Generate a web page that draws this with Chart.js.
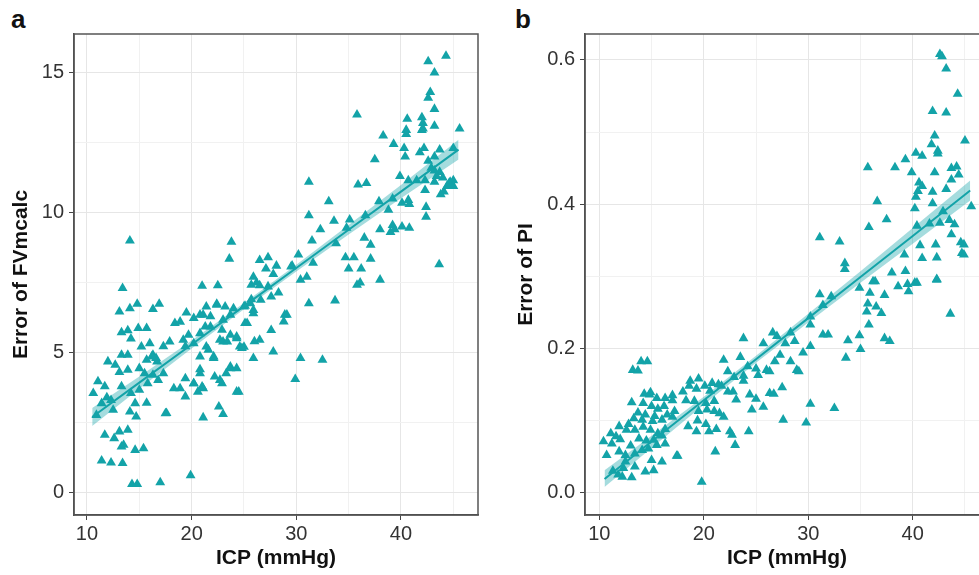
<!DOCTYPE html>
<html>
<head>
<meta charset="utf-8">
<script src="https://cdn.jsdelivr.net/npm/chart.js@4.4.1/dist/chart.umd.min.js"></script>
<style>
  body { margin: 0; width: 979px; height: 575px; overflow: hidden; position: relative; background: #fff;
         font-family: "Liberation Sans", Arial, sans-serif; }
  .panel { position: absolute; top: 0; height: 575px; }
  #wrapA { left: 0; width: 490px; }
  #wrapB { left: 490px; width: 510px; }
  .tag { position: absolute; font-weight: bold; font-size: 26px; line-height: 26px; color: #111; }
</style>
</head>
<body>
<div class="tag" style="left:11px;top:6px">a</div>
<div class="tag" style="left:515px;top:6px">b</div>
<div class="panel" id="wrapA"><canvas id="chartA"></canvas></div>
<div class="panel" id="wrapB"><canvas id="chartB"></canvas></div>
<script>
// ---- data: [ICP (mmHg), error] ----
const fvPoints = [
  [44.3,15.6],[42.6,15.4],[43.2,15.0],[42.8,14.3],[42.6,14.1],[43.2,13.7],[35.8,13.5],[40.6,13.35],[42.0,13.4],[42.1,13.2],
  [42.1,13.0],[43.2,13.1],[40.5,12.95],[42.0,12.95],[40.5,12.8],[45.6,13.0],[38.3,12.75],[39.3,12.45],[40.3,12.3],[42.2,12.3],
  [43.7,12.25],[45.0,12.3],[40.4,12.0],[41.8,12.15],[43.2,12.0],[37.5,11.9],[42.6,11.85],[42.9,11.6],[43.2,11.5],[43.7,11.45],
  [39.9,11.3],[40.7,11.15],[41.5,11.15],[42.3,11.15],[43.4,11.3],[44.0,11.25],[44.7,11.1],[45.0,11.15],[44.4,10.95],[45.0,10.95],
  [44.6,11.05],[43.2,11.1],[42.3,10.8],[44.1,10.75],[43.8,10.65],[31.2,11.1],[35.9,11.0],[36.7,11.05],[37.9,10.4],[39.2,10.5],
  [40.1,10.35],[40.7,10.45],[40.8,10.3],[38.8,10.1],[42.4,10.2],[42.4,9.85],[33.1,10.4],[31.2,9.9],[36.6,9.9],[35.1,9.75],
  [33.6,9.7],[34.8,9.45],[32.3,9.4],[39.2,9.55],[39.4,9.4],[40.1,9.5],[40.8,9.45],[39.0,9.3],[38.0,9.4],[36.5,9.1],
  [37.1,8.85],[33.8,8.9],[31.5,9.0],[30.2,8.5],[34.7,8.4],[35.5,8.4],[37.1,8.35],[35.0,8.0],[36.2,8.0],[43.65,8.15],
  [38.0,7.6],[36.1,7.5],[35.8,7.42],[31.6,8.2],[31.0,7.7],[30.4,7.6],[29.6,8.1],
  [26.5,8.3],[27.3,8.4],[27.1,8.0],[28.1,8.1],[27.8,7.8],[25.9,7.7],[26.2,7.5],[23.8,8.95],[23.6,8.35],[29.5,8.07],
  [25.7,7.42],[26.5,7.4],[27.3,7.36],[28.3,7.14],[21.0,7.38],[22.5,7.4],[31.2,6.76],[33.7,6.86],[27.6,7.0],[29.1,6.35],
  [28.8,6.11],[27.6,5.8],[26.5,5.45],[26.0,5.4],[25.0,5.2],[27.8,5.03],[25.9,4.8],[30.4,4.8],[32.5,4.74],[29.9,4.05],
  [24.5,3.6],[22.6,3.07],[23.0,2.8],[21.1,2.68],
  [21.4,6.64],[22.4,6.74],[23.2,6.64],[24.0,6.58],[25.0,6.64],[25.6,6.76],[25.9,6.52],[26.6,6.88],[20.8,6.35],[21.8,6.29],
  [23.0,6.17],[23.7,6.35],[21.3,5.93],[22.9,5.81],[23.7,5.63],[24.3,5.57],[25.3,6.05],[21.4,5.21],[23.0,5.39],[24.6,5.21],
  [20.8,4.86],[22.1,4.8],[23.7,4.5],[24.3,4.44],[20.8,4.26],[22.2,4.14],[23.3,4.26],[20.2,3.9],[21.1,3.72],[22.9,3.9],
  [18.4,6.05],[18.9,6.1],[19.5,6.43],[20.2,6.23],[21.1,6.35],[22.4,6.7],[25.1,6.67],[25.7,6.9],[25.9,6.4],[25.1,6.05],
  [28.9,6.35],[17.3,5.22],[17.9,5.39],[19.2,5.45],[19.4,5.22],[20.2,5.33],[19.7,5.63],[20.8,5.69],[21.8,5.93],[21.6,5.1],
  [22.1,4.86],[22.7,5.45],[23.4,5.39],[24.3,5.51],[24.8,5.16],[20.8,4.4],[22.7,4.02],[23.7,4.44],[19.4,4.08],[18.9,3.72],
  [19.4,3.43],[18.3,3.72],[20.2,3.9],[21.0,3.78],[20.6,3.6],[24.3,3.6],[17.5,2.83],
  [14.1,9.0],[13.4,7.3],[13.1,6.46],[14.1,6.58],[14.8,6.74],[16.3,6.55],[16.9,6.74],[13.3,5.72],[13.9,5.79],[14.9,5.87],
  [15.7,5.87],[14.2,5.5],[15.2,5.21],[16.0,5.33],[13.3,4.92],[13.9,4.92],[16.3,4.92],[16.6,4.8],[15.7,4.74],[16.2,4.86],
  [16.7,4.68],[12.0,4.68],[12.7,4.56],[13.1,4.3],[13.9,4.38],[15.0,4.44],[15.5,4.26],[16.3,4.2],[11.05,3.97],[11.7,3.79],
  [10.6,3.55],[11.4,3.19],[13.3,3.79],[14.2,3.55],[15.0,3.67],[15.8,3.9],[16.8,4.02],[17.3,4.26],[14.6,3.19],[15.7,3.2],
  [14.1,2.89],[14.7,2.71],[12.5,2.95],[17.6,2.84],[10.9,2.77],[11.7,2.06],[12.6,1.94],[13.1,2.18],[13.9,2.24],[13.3,1.64],
  [14.6,1.52],[15.4,1.58],[11.4,1.14],[12.3,1.07],[13.4,1.05],[14.3,0.3],[14.8,0.3],[17.0,0.36],[19.9,0.61],[13.5,1.7],
  [11.9,3.4],[12.3,3.3]
];

const piPoints = [
  [14.0,0.182],[13.2,0.170],[13.7,0.169],[14.6,0.182],[14.3,0.137],[14.9,0.139],[15.5,0.131],[16.3,0.131],[17.0,0.135],[13.1,0.125],
  [14.8,0.136],[14.2,0.124],[15.0,0.12],[15.6,0.116],[16.2,0.12],[17.0,0.128],[13.3,0.103],[14.1,0.101],[15.1,0.099],[16.0,0.101],
  [17.0,0.105],[11.9,0.092],[12.6,0.087],[13.4,0.087],[14.2,0.091],[14.9,0.087],[15.6,0.082],[16.3,0.088],[11.1,0.082],[10.4,0.071],
  [11.2,0.068],[10.7,0.052],[11.9,0.057],[12.5,0.052],[13.4,0.054],[14.1,0.059],[14.7,0.061],[15.5,0.066],[16.3,0.068],[12.5,0.043],
  [13.4,0.036],[12.2,0.022],[13.1,0.021],[14.4,0.029],[15.2,0.031],[17.4,0.051],[19.8,0.015],[11.3,0.03],[11.8,0.025],[12.3,0.034],
  [11.6,0.078],[12.0,0.074],[13.8,0.075],[14.5,0.072],[15.2,0.073],[16.0,0.079],[13.0,0.065],[15.0,0.045],[16.0,0.043],[12.8,0.095],
  [13.7,0.111],[14.4,0.108],[15.3,0.106],[16.5,0.108],[17.2,0.113],
  [18.0,0.14],[18.6,0.148],[19.3,0.144],[20.1,0.148],[20.6,0.141],[18.3,0.128],[19.1,0.127],[20.2,0.124],[21.0,0.127],[21.7,0.148],
  [22.3,0.14],[19.5,0.113],[20.3,0.115],[21.0,0.113],[21.5,0.11],[21.9,0.105],[22.5,0.085],[22.7,0.08],[19.3,0.085],[20.5,0.085],
  [21.2,0.088],[18.5,0.092],[19.4,0.1],[20.2,0.095],[21.9,0.184],[23.5,0.188],[22.3,0.168],[23.8,0.214],[24.4,0.136],[25.0,0.13],
  [22.8,0.14],[23.1,0.129],[24.6,0.115],[25.7,0.119],[26.3,0.138],[26.7,0.137],[27.5,0.146],[30.2,0.123],[32.5,0.117],[27.6,0.101],
  [29.8,0.097],[24.3,0.085],[23.0,0.066],[21.1,0.057],[17.5,0.051],[23.8,0.155],[23.8,0.162],[25.2,0.163],[25.0,0.172],[26.0,0.17],
  [26.3,0.168],[26.8,0.182],[27.3,0.191],[28.3,0.182],[28.9,0.17],[29.1,0.168],[25.7,0.207],[27.0,0.217],[26.6,0.222],[27.8,0.207],
  [28.3,0.222],[28.7,0.210],[29.5,0.194],[30.2,0.203],[30.2,0.233],[30.2,0.244],[31.1,0.275],[32.2,0.272],[31.4,0.26],[31.4,0.219],
  [31.9,0.219],[33.8,0.211],[34.9,0.218],[37.8,0.21],[37.3,0.214],[35.0,0.199],[33.6,0.187],[18.7,0.155],[19.5,0.158],[20.8,0.152],
  [21.4,0.15],[22.9,0.16],[24.2,0.175],
  [34.9,0.284],[36.4,0.293],[38.6,0.286],[39.5,0.289],[39.6,0.279],[40.4,0.291],[42.3,0.295],[35.9,0.277],[37.3,0.274],[35.7,0.262],
  [36.5,0.258],[35.6,0.251],[37.0,0.249],[43.6,0.248],[35.8,0.233],[31.1,0.354],[33.0,0.348],[33.5,0.318],[33.5,0.31],[39.2,0.330],
  [40.7,0.343],[40.9,0.325],[42.2,0.344],[42.3,0.326],[38.0,0.305],[39.3,0.307],[42.3,0.296],[36.2,0.293],[40.2,0.291],[37.5,0.379],
  [35.8,0.368],[36.6,0.404],[40.4,0.370],[41.6,0.373],[42.6,0.374],[43.5,0.378],[44.0,0.372],[43.7,0.358],[44.6,0.347],[44.9,0.344],
  [44.7,0.332],[44.9,0.33],[40.2,0.394],[41.9,0.401],[42.9,0.390],[45.6,0.397],[40.3,0.41],[40.5,0.418],[40.9,0.425],[40.6,0.43],
  [41.9,0.417],[43.2,0.421],[43.7,0.434],[44.4,0.441],[43.7,0.45],[44.2,0.452],[42.1,0.444],[39.9,0.444],[38.3,0.451],[35.7,0.451],
  [39.3,0.462],[40.3,0.471],[40.9,0.467],[42.4,0.474],[42.4,0.47],[41.8,0.483],[42.1,0.495],[45.0,0.488],[41.9,0.529],[43.2,0.527],
  [44.3,0.553],[43.2,0.588],[42.6,0.608],[42.8,0.605]
];

// regression line and its confidence band
const fitX    = [10.5, 15, 20, 25, 30, 35, 40, 45.5];
const fvFit   = [2.70, 3.93, 5.29, 6.66, 8.02, 9.39, 10.75, 12.25];
const fvUpper = [3.02, 4.15, 5.43, 6.77, 8.14, 9.56, 10.99, 12.60];
const fvLower = [2.38, 3.71, 5.15, 6.55, 7.90, 9.22, 10.51, 11.90];
const piFit   = [0.019, 0.071, 0.128, 0.185, 0.242, 0.299, 0.356, 0.419];
const piUpper = [0.031, 0.079, 0.133, 0.190, 0.248, 0.307, 0.367, 0.433];
const piLower = [0.008, 0.062, 0.122, 0.180, 0.236, 0.291, 0.345, 0.405];

// ticks
const xMajor  = [10, 20, 30, 40];
const xMinor  = [15, 25, 35, 45];
const fvMajor = [0, 5, 10, 15];
const fvMinor = [2.5, 7.5, 12.5];
const piMajor = [0, 0.2, 0.4, 0.6];
const piMinor = [0.1, 0.3, 0.5];

const teal = '#13a3a8';
Chart.defaults.font.family = '"Liberation Sans", Arial, sans-serif';

const frame = {
  id: 'frame',
  afterDraw(chart) {
    const a = chart.chartArea, c = chart.ctx;
    c.save();
    c.strokeStyle = '#555';
    c.lineWidth = 1.5;
    c.strokeRect(a.left, a.top, a.right - a.left, a.bottom - a.top);
    c.restore();
  }
};

function pairs(xs, ys) { return xs.map((x, i) => ({ x: x, y: ys[i] })); }

function axis(min, max, major, minor, fmt, title, fitFn, pad) {
  const all = major.concat(minor);
  return {
    type: 'linear', min: min, max: max,
    afterBuildTicks: s => { s.ticks = all.slice().sort((p, q) => p - q).map(v => ({ value: v })); },
    afterFit: fitFn,
    grid: {
      color: c => major.includes(c.tick.value) ? '#e6e6e6' : '#f1f1f1',
      lineWidth: 1,
      tickLength: 5,
      tickColor: c => major.includes(c.tick.value) ? '#444' : 'rgba(0,0,0,0)'
    },
    border: { display: true, color: '#444', width: 1.5 },
    ticks: {
      autoSkip: false, maxRotation: 0, padding: pad,
      color: '#333', font: { size: 20 },
      callback: v => major.includes(v) ? fmt(v) : ''
    },
    title: { display: true, text: title, color: '#111', padding: 0, font: { size: 21, weight: 'bold' } }
  };
}

function makePanel(id, pts, fit, upper, lower, yMin, yMax, yMajor, yMinor, yFmt, yTitle, xMin, xMax, pad, yWidth) {
  new Chart(document.getElementById(id), {
    type: 'line',
    data: {
      datasets: [
        { data: pairs(fitX, fit), borderColor: teal, borderWidth: 2, pointRadius: 0, fill: false },
        { data: pairs(fitX, upper), borderWidth: 0, pointRadius: 0, fill: '+1',
          backgroundColor: 'rgba(19,163,168,0.38)', borderColor: 'rgba(0,0,0,0)' },
        { data: pairs(fitX, lower), borderWidth: 0, pointRadius: 0, fill: false, borderColor: 'rgba(0,0,0,0)' },
        { data: pts.map(p => ({ x: p[0], y: p[1] })), showLine: false,
          pointStyle: 'triangle', pointRadius: 5.7, borderWidth: 0,
          backgroundColor: teal, borderColor: teal }
      ]
    },
    options: {
      responsive: true,
      maintainAspectRatio: false,
      animation: false,
      events: [],
      layout: { padding: pad },
      plugins: { legend: { display: false }, tooltip: { enabled: false } },
      scales: {
        x: axis(xMin, xMax, xMajor, xMinor, v => String(v), 'ICP (mmHg)', s => { s.height = 56; }, 2),
        y: axis(yMin, yMax, yMajor, yMinor, yFmt, yTitle, s => { s.width = yWidth; }, 5)
      }
    },
    plugins: [frame]
  });
}

makePanel('chartA', fvPoints, fvFit, fvUpper, fvLower, -0.8, 16.38, fvMajor, fvMinor,
  v => String(v), 'Error of FVmcalc', 8.76, 47.36, { left: 9, top: 34, right: 12, bottom: 4 }, 65);
makePanel('chartB', piPoints, piFit, piUpper, piLower, -0.031, 0.636, piMajor, piMinor,
  v => v.toFixed(1), 'Error of PI', 8.63, 47.3, { left: 24, top: 34, right: 11, bottom: 4 }, 71);
</script>
</body>
</html>
